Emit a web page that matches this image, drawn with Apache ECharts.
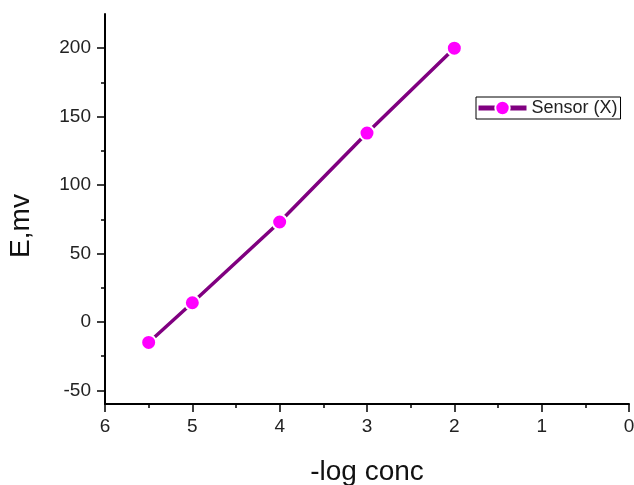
<!DOCTYPE html>
<html>
<head>
<meta charset="utf-8">
<script src="https://cdn.jsdelivr.net/npm/echarts@6/dist/echarts.min.js"></script>
<style>
  html, body { margin: 0; padding: 0; background: #fff; }
  #chart { width: 634px; height: 485px; }
</style>
</head>
<body>
<div id="chart"></div>
<script>
  var logConc = [5.5, 5, 4, 3, 2];
  var potential = [-15, 14, 73, 138, 200];
  var yMajorTicks = [-50, 0, 50, 100, 150, 200];
  var yMinorTicks = [-25, 25, 75, 125, 175];

  var chart = echarts.init(document.getElementById('chart'));
  var font = 'Liberation Sans, Arial, sans-serif';

  var points = logConc.map(function (x, i) {
    return [x, potential[i]];
  });

  var option = {
    animation: false,
    backgroundColor: '#fff',
    grid: {
      left: 105, right: 5, top: 14, bottom: 81,
      containLabel: false,
      outerBoundsMode: 'none'
    },
    legend: {
      left: 476,
      top: 97,
      orient: 'vertical',
      itemWidth: 48,
      itemHeight: 18,
      itemGap: 4,
      padding: [2, 3, 2, 0],
      borderColor: '#000',
      borderWidth: 1,
      borderRadius: 0,
      lineStyle: { width: 5, color: '#800080' },
      textStyle: { color: '#222', fontSize: 18, fontFamily: font },
      data: ['Sensor (X)']
    },
    xAxis: {
      type: 'value',
      min: 0,
      max: 6,
      interval: 1,
      inverse: true,
      name: '-log conc',
      nameLocation: 'middle',
      nameGap: 54,
      nameTextStyle: { color: '#111', fontSize: 28, fontFamily: font },
      axisLine: { show: true, onZero: false, lineStyle: { color: '#000', width: 2 } },
      axisTick: { show: true, inside: false, length: 8, lineStyle: { color: '#000', width: 1.5 } },
      minorTick: { show: true, splitNumber: 2, length: 4, lineStyle: { color: '#000', width: 1.5 } },
      axisLabel: { color: '#222', fontSize: 19, fontFamily: font, margin: 13 },
      splitLine: { show: false }
    },
    yAxis: [
      {
        type: 'value',
        min: -60,
        max: 225,
        name: 'E,mv',
        nameLocation: 'middle',
        nameGap: 70,
        nameTextStyle: { color: '#111', fontSize: 28, fontFamily: font, padding: [0, 34, 0, 0] },
        axisLine: { show: true, onZero: false, lineStyle: { color: '#000', width: 2 } },
        axisTick: {
          show: true, inside: false, length: 8,
          customValues: yMajorTicks,
          lineStyle: { color: '#000', width: 1.5 }
        },
        axisLabel: {
          color: '#222', fontSize: 19, fontFamily: font, margin: 14,
          customValues: yMajorTicks
        },
        splitLine: { show: false }
      },
      {
        type: 'value',
        min: -60,
        max: 225,
        position: 'left',
        axisLine: { show: false, onZero: false },
        axisTick: {
          show: true, inside: false, length: 4,
          customValues: yMinorTicks,
          lineStyle: { color: '#000', width: 1.5 }
        },
        axisLabel: { show: false },
        splitLine: { show: false }
      }
    ],
    series: [
      {
        name: 'Sensor (X)',
        type: 'line',
        data: points,
        symbol: 'circle',
        symbolSize: 15,
        lineStyle: { color: '#800080', width: 3.5 },
        itemStyle: { color: '#ff00ff', borderColor: '#fff', borderWidth: 2 }
      }
    ]
  };

  chart.setOption(option);
</script>
</body>
</html>
